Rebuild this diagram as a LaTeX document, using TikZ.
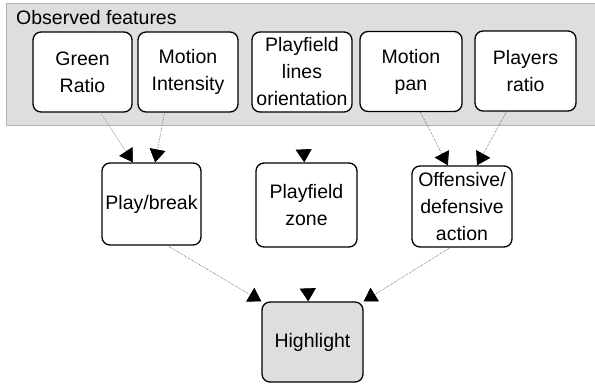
\documentclass[tikz,border=0pt]{standalone}
\usepackage{fontspec}
\setmainfont{Liberation Sans}
\usepackage{tikz}
\usetikzlibrary{arrows.meta}
\definecolor{mgray}{rgb}{0.35, 0.35, 0.35}
\definecolor{mpanel}{rgb}{0.87, 0.87, 0.87}
\tikzset{feature/.style = {draw, line width=1.3pt, rounded corners=8pt, fill=white,
                           minimum width=100pt, minimum height=80pt,
                           align=center, inner sep=1pt,
                           font=\fontsize{19.5}{27}\selectfont},
         link/.style = {-{Triangle[width=16pt, length=13pt, color=black]},
                        line width=0.6pt, densely dotted, mgray},
         lost/.style = {link, draw=white, shorten <=14pt}}

\begin{document}
\begin{tikzpicture}[x=1pt, y=-1pt]
    \useasboundingbox (0, 0) rectangle (595, 384);
    \draw [draw=gray!60, fill=mpanel] (6, 3) rectangle (600, 125);
    \node (obs) [anchor=base west, inner sep=0pt, font=\fontsize{19.5}{27}\selectfont]
        at (16, 24) {Observed features};

    \node (gr) [feature, minimum width=99pt] at (82.5, 72) {Green\\Ratio};
    \node (mi) [feature] at (188, 72) {Motion\\Intensity};
    \node (pl) [feature] at (302, 72) {Playfield\\lines\\orientation};
    \node (mp) [feature, minimum width=102pt] at (411, 71.5) {Motion\\pan};
    \node (pr) [feature, minimum width=101pt] at (525.5, 71) {Players\\ratio};

    \node (pb) [feature, minimum width=99pt, minimum height=82pt] at (151.5, 204) {Play/break};
    \node (pz) [feature, minimum width=101pt, minimum height=84pt] at (306.5, 205) {Playfield\\zone};
    \node (oa) [feature, minimum height=81pt] at (462, 206.5) {Offensive/\\defensive\\action};
    \node (hl) [feature, fill=mpanel, minimum width=101pt] at (312.5, 342) {Highlight};

    \draw [link, solid, gray!60, line width=0.5pt] (gr.-66) -- (pb.114);
    \draw [link] (mi.-120) -- (pb.85);
    \draw [link] (mp.-77) -- (oa.109);
    \draw [link] (pr.-115) -- (oa.70);
    \draw [link] (pb.-69) -- (hl.north west);
    \draw [link] (oa.-106) -- (hl.north east);
    \draw [lost] (pl.south) -- (pz.93);
    \draw [lost, shorten <=2pt] (pz.south) -- (hl.96);
\end{tikzpicture}
\end{document}
